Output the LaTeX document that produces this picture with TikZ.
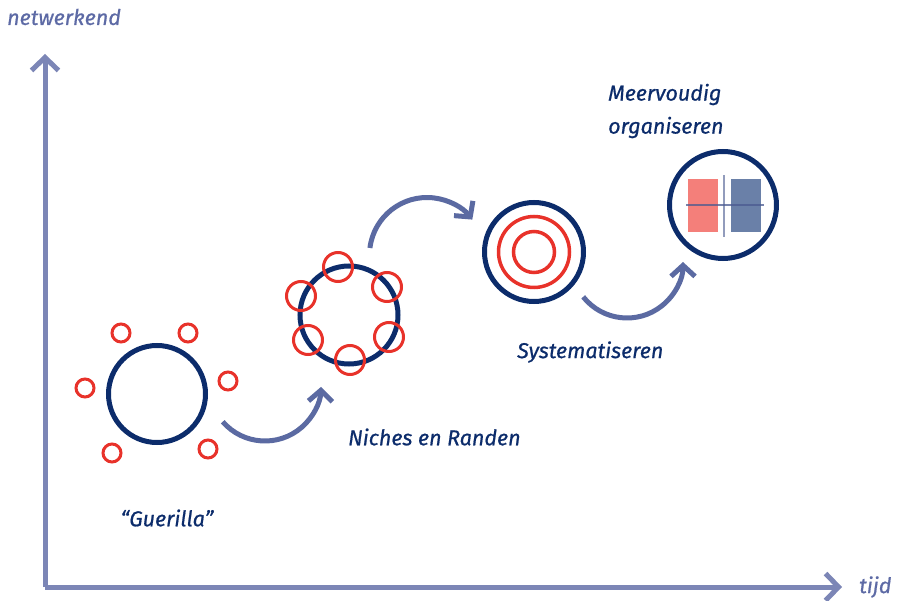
\documentclass[tikz,border=0pt]{standalone}
\usepackage{fontspec}
\setmainfont{Fira Sans}
\newfontfamily\lblfont{Fira Sans}[ItalicFeatures={FakeBold=0.7}]
\usetikzlibrary{arrows.meta,calc}
\definecolor{navy}{HTML}{0C2C6B}
\definecolor{redc}{HTML}{E8322A}
\definecolor{arrc}{HTML}{5B6AA2}
\definecolor{axc}{HTML}{7C86B6}
\definecolor{lblc}{HTML}{5D6AA5}
\definecolor{salmon}{HTML}{F47F7A}
\definecolor{slate}{HTML}{6A80A8}
\definecolor{crossc}{HTML}{4A5A90}
\tikzset{
  bigring/.style={circle, draw=navy, line width=5pt, inner sep=0pt, minimum size=#1},
  redring/.style={circle, draw=redc, line width=3pt, inner sep=0pt, minimum size=#1},
  flowarrow/.style={draw=arrc, line width=5pt, -{Straight Barb[length=11pt,width=24pt]}},
  axisline/.style={draw=axc, line width=5pt, -{Straight Barb[length=13pt,width=27pt]}},
  lbl/.style={font=\lblfont\itshape\fontsize{21.5}{33}\selectfont, text=navy, inner sep=0pt},
  axlbl/.style={font=\lblfont\itshape\fontsize{21.5}{26}\selectfont, text=lblc, inner sep=0pt}
}
\begin{document}
\begin{tikzpicture}[x=1pt,y=1pt]
\useasboundingbox (0,0) rectangle (900,-601);
% axes
\coordinate (origin) at (45,-587);
\coordinate (ytop) at (45,-54);
\coordinate (xend) at (842,-587);
\draw[axisline] (origin) -- (ytop);
\draw[axisline] (origin) -- (xend);
\node[axlbl, anchor=west] (ylab) at (7,-17) {netwerkend};
\node[axlbl, anchor=west] (xlab) at (859,-587) {tijd};
% Guerilla
\node[bigring=97pt] (g) at (157,-394) {};
\node[redring=18pt] (g1) at (121,-333) {};
\node[redring=18pt] (g2) at (188,-333) {};
\node[redring=18pt] (g3) at (85,-388) {};
\node[redring=18pt] (g4) at (228,-381) {};
\node[redring=18pt] (g5) at (112,-453) {};
\node[redring=18pt] (g6) at (208,-449) {};
\node[lbl] (glab) at (167,-518) {“Guerilla”};
% Niches
\node[bigring=98pt] (n) at (349,-315) {};
\node[redring=29pt] (n1) at (338,-267) {};
\node[redring=29pt] (n2) at (387,-287) {};
\node[redring=29pt] (n3) at (301,-296) {};
\node[redring=29pt] (n4) at (389,-337) {};
\node[redring=29pt] (n5) at (308,-340) {};
\node[redring=29pt] (n6) at (350,-360) {};
\node[lbl, anchor=west] (nlab) at (348,-437) {Niches en Randen};
% Systematiseren
\node[bigring=99pt] (s) at (534,-252) {};
\node[redring=71pt, line width=3.5pt] (s1) at (s) {};
\node[redring=41pt, line width=3.5pt] (s2) at (s) {};
\node[lbl, anchor=west] (slab) at (517,-352) {Systematiseren};
% Meervoudig
\node[bigring=107pt] (m) at (723,-205) {};
\fill[salmon] (688,-179) rectangle (718,-232);
\fill[slate] (731,-179) rectangle (761,-232);
\draw[crossc, opacity=0.75, line width=2.5pt] (686,-205) -- (764,-205);
\draw[crossc, opacity=0.6, line width=2.5pt] (724,-175) -- (724,-237);
\node[lbl, anchor=west, align=left] (mlab) at (608,-111) {Meervoudig\\organiseren};
% flow arrows (arcs)
\coordinate (a1) at ($(265,-385)+(221:56)$);
\draw[flowarrow] (a1) arc[start angle=221, end angle=358, radius=56];
\coordinate (a2) at ($(427,-255)+(173:57.5)$);
\draw[flowarrow] (a2) arc[start angle=173, end angle=38, radius=57.5];
\coordinate (a3) at ($(627,-262)+(218.5:56)$);
\draw[flowarrow] (a3) arc[start angle=218.5, end angle=360, radius=56];
\end{tikzpicture}
\end{document}
